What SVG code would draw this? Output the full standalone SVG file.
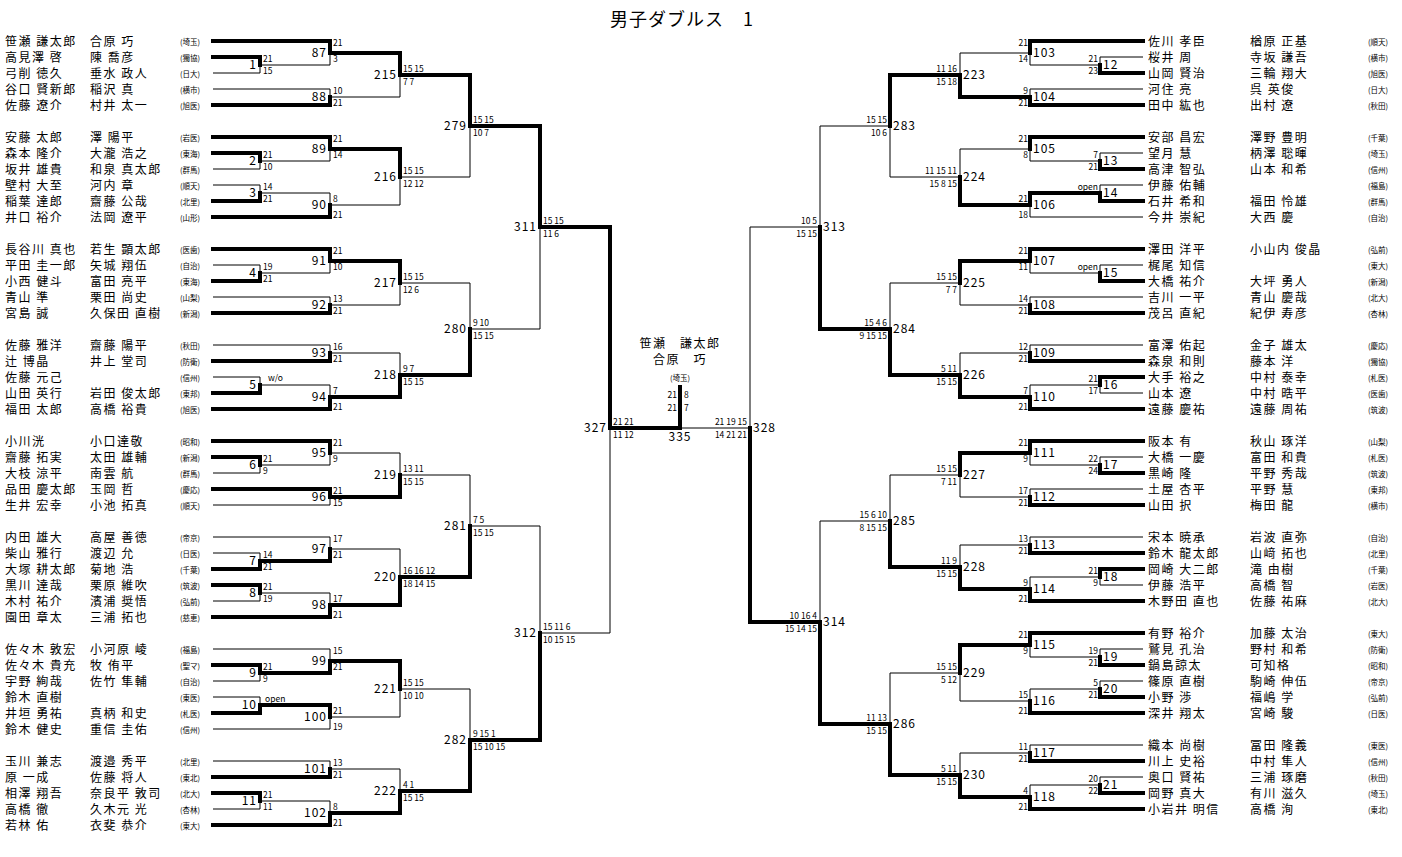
<svg xmlns="http://www.w3.org/2000/svg" width="1402" height="857" viewBox="0 0 1402 857">
<style>
text{font-family:"Noto Sans CJK JP","Liberation Sans",sans-serif;fill:#000}
.nm{font-size:12px;letter-spacing:1.5px}
.a{font-size:7.5px;letter-spacing:0}
.s{font-family:"Liberation Sans",sans-serif;font-size:8.5px}
.lb{font-family:"Liberation Sans",sans-serif;font-size:12px;letter-spacing:1px}
.re{text-anchor:end}
.t{fill:none;stroke:#000;stroke-width:4;stroke-linecap:square}
.n{fill:none;stroke:#000;stroke-width:1}
</style>
<rect width="1402" height="857" fill="#fff"/>
<text x="682" y="26" text-anchor="middle" style="font-size:18px;letter-spacing:1px">男子ダブルス　1</text>
<g id="connectors">
<path class="t" d="M213 57H260V65"/><path class="n" d="M213 73H260V65"/>
<path class="t" d="M213 41H330V53"/><path class="n" d="M260 65H330V53"/>
<path class="n" d="M213 89H330V97"/><path class="t" d="M213 105H330V97"/>
<path class="t" d="M330 53H400V75"/><path class="n" d="M330 97H400V75"/>
<path class="t" d="M213 153H260V161"/><path class="n" d="M213 169H260V161"/>
<path class="t" d="M213 137H330V149"/><path class="n" d="M260 161H330V149"/>
<path class="n" d="M213 185H260V193"/><path class="t" d="M213 201H260V193"/>
<path class="n" d="M260 193H330V205"/><path class="t" d="M213 217H330V205"/>
<path class="t" d="M330 149H400V177"/><path class="n" d="M330 205H400V177"/>
<path class="t" d="M400 75H470V126"/><path class="n" d="M400 177H470V126"/>
<path class="n" d="M213 265H260V273"/><path class="t" d="M213 281H260V273"/>
<path class="t" d="M213 249H330V261"/><path class="n" d="M260 273H330V261"/>
<path class="n" d="M213 297H330V305"/><path class="t" d="M213 313H330V305"/>
<path class="t" d="M330 261H400V283"/><path class="n" d="M330 305H400V283"/>
<path class="n" d="M213 345H330V353"/><path class="t" d="M213 361H330V353"/>
<path class="n" d="M213 377H260V385"/><path class="t" d="M213 393H260V385"/>
<path class="n" d="M260 385H330V397"/><path class="t" d="M213 409H330V397"/>
<path class="n" d="M330 353H400V375"/><path class="t" d="M330 397H400V375"/>
<path class="n" d="M400 283H470V329"/><path class="t" d="M400 375H470V329"/>
<path class="t" d="M470 126H540V227"/><path class="n" d="M470 329H540V227"/>
<path class="t" d="M213 457H260V465"/><path class="n" d="M213 473H260V465"/>
<path class="t" d="M213 441H330V453"/><path class="n" d="M260 465H330V453"/>
<path class="t" d="M213 489H330V497"/><path class="n" d="M213 505H330V497"/>
<path class="n" d="M330 453H400V475"/><path class="t" d="M330 497H400V475"/>
<path class="n" d="M213 553H260V561"/><path class="t" d="M213 569H260V561"/>
<path class="n" d="M213 537H330V549"/><path class="t" d="M260 561H330V549"/>
<path class="t" d="M213 585H260V593"/><path class="n" d="M213 601H260V593"/>
<path class="n" d="M260 593H330V605"/><path class="t" d="M213 617H330V605"/>
<path class="n" d="M330 549H400V577"/><path class="t" d="M330 605H400V577"/>
<path class="n" d="M400 475H470V526"/><path class="t" d="M400 577H470V526"/>
<path class="t" d="M213 665H260V673"/><path class="n" d="M213 681H260V673"/>
<path class="n" d="M213 649H330V661"/><path class="t" d="M260 673H330V661"/>
<path class="n" d="M213 697H260V705"/><path class="t" d="M213 713H260V705"/>
<path class="t" d="M260 705H330V717"/><path class="n" d="M213 729H330V717"/>
<path class="t" d="M330 661H400V689"/><path class="n" d="M330 717H400V689"/>
<path class="n" d="M213 761H330V769"/><path class="t" d="M213 777H330V769"/>
<path class="t" d="M213 793H260V801"/><path class="n" d="M213 809H260V801"/>
<path class="n" d="M260 801H330V813"/><path class="t" d="M213 825H330V813"/>
<path class="n" d="M330 769H400V791"/><path class="t" d="M330 813H400V791"/>
<path class="n" d="M400 689H470V740"/><path class="t" d="M400 791H470V740"/>
<path class="n" d="M470 526H540V633"/><path class="t" d="M470 740H540V633"/>
<path class="t" d="M540 227H610V428"/><path class="n" d="M540 633H610V428"/>
<path class="t" d="M610 428H680V387"/><path class="n" d="M680 428H750"/>
<path class="n" d="M1143 57H1100V65"/><path class="t" d="M1143 73H1100V65"/>
<path class="t" d="M1143 41H1030V53"/><path class="n" d="M1100 65H1030V53"/>
<path class="n" d="M1143 89H1030V97"/><path class="t" d="M1143 105H1030V97"/>
<path class="n" d="M1030 53H960V75"/><path class="t" d="M1030 97H960V75"/>
<path class="n" d="M1143 153H1100V161"/><path class="t" d="M1143 169H1100V161"/>
<path class="t" d="M1143 137H1030V149"/><path class="n" d="M1100 161H1030V149"/>
<path class="n" d="M1143 185H1100V193"/><path class="t" d="M1143 201H1100V193"/>
<path class="t" d="M1100 193H1030V205"/><path class="n" d="M1143 217H1030V205"/>
<path class="n" d="M1030 149H960V177"/><path class="t" d="M1030 205H960V177"/>
<path class="t" d="M960 75H890V126"/><path class="n" d="M960 177H890V126"/>
<path class="n" d="M1143 265H1100V273"/><path class="t" d="M1143 281H1100V273"/>
<path class="t" d="M1143 249H1030V261"/><path class="n" d="M1100 273H1030V261"/>
<path class="n" d="M1143 297H1030V305"/><path class="t" d="M1143 313H1030V305"/>
<path class="t" d="M1030 261H960V283"/><path class="n" d="M1030 305H960V283"/>
<path class="n" d="M1143 345H1030V353"/><path class="t" d="M1143 361H1030V353"/>
<path class="t" d="M1143 377H1100V385"/><path class="n" d="M1143 393H1100V385"/>
<path class="n" d="M1100 385H1030V397"/><path class="t" d="M1143 409H1030V397"/>
<path class="n" d="M1030 353H960V375"/><path class="t" d="M1030 397H960V375"/>
<path class="n" d="M960 283H890V329"/><path class="t" d="M960 375H890V329"/>
<path class="n" d="M890 126H820V227"/><path class="t" d="M890 329H820V227"/>
<path class="n" d="M1143 457H1100V465"/><path class="t" d="M1143 473H1100V465"/>
<path class="t" d="M1143 441H1030V453"/><path class="n" d="M1100 465H1030V453"/>
<path class="n" d="M1143 489H1030V497"/><path class="t" d="M1143 505H1030V497"/>
<path class="t" d="M1030 453H960V475"/><path class="n" d="M1030 497H960V475"/>
<path class="n" d="M1143 537H1030V545"/><path class="t" d="M1143 553H1030V545"/>
<path class="t" d="M1143 569H1100V577"/><path class="n" d="M1143 585H1100V577"/>
<path class="n" d="M1100 577H1030V589"/><path class="t" d="M1143 601H1030V589"/>
<path class="n" d="M1030 545H960V567"/><path class="t" d="M1030 589H960V567"/>
<path class="n" d="M960 475H890V521"/><path class="t" d="M960 567H890V521"/>
<path class="n" d="M1143 649H1100V657"/><path class="t" d="M1143 665H1100V657"/>
<path class="t" d="M1143 633H1030V645"/><path class="n" d="M1100 657H1030V645"/>
<path class="n" d="M1143 681H1100V689"/><path class="t" d="M1143 697H1100V689"/>
<path class="n" d="M1100 689H1030V701"/><path class="t" d="M1143 713H1030V701"/>
<path class="t" d="M1030 645H960V673"/><path class="n" d="M1030 701H960V673"/>
<path class="n" d="M1143 745H1030V753"/><path class="t" d="M1143 761H1030V753"/>
<path class="n" d="M1143 777H1100V785"/><path class="t" d="M1143 793H1100V785"/>
<path class="n" d="M1100 785H1030V797"/><path class="t" d="M1143 809H1030V797"/>
<path class="n" d="M1030 753H960V775"/><path class="t" d="M1030 797H960V775"/>
<path class="n" d="M960 673H890V724"/><path class="t" d="M960 775H890V724"/>
<path class="n" d="M890 521H820V622"/><path class="t" d="M890 724H820V622"/>
<path class="n" d="M820 227H750V428"/><path class="t" d="M820 622H750V428"/>
</g>
<g id="match-labels" class="lb">
<text class="re" x="257" y="69">1</text><text class="re" x="327" y="57">87</text><text class="re" x="327" y="101">88</text><text class="re" x="397" y="79">215</text>
<text class="re" x="257" y="165">2</text><text class="re" x="327" y="153">89</text><text class="re" x="257" y="197">3</text><text class="re" x="327" y="209">90</text><text class="re" x="397" y="181">216</text><text class="re" x="467" y="130">279</text>
<text class="re" x="257" y="277">4</text><text class="re" x="327" y="265">91</text><text class="re" x="327" y="309">92</text><text class="re" x="397" y="287">217</text>
<text class="re" x="327" y="357">93</text><text class="re" x="257" y="389">5</text><text class="re" x="327" y="401">94</text><text class="re" x="397" y="379">218</text><text class="re" x="467" y="333">280</text><text class="re" x="537" y="231">311</text>
<text class="re" x="257" y="469">6</text><text class="re" x="327" y="457">95</text><text class="re" x="327" y="501">96</text><text class="re" x="397" y="479">219</text>
<text class="re" x="257" y="565">7</text><text class="re" x="327" y="553">97</text><text class="re" x="257" y="597">8</text><text class="re" x="327" y="609">98</text><text class="re" x="397" y="581">220</text><text class="re" x="467" y="530">281</text>
<text class="re" x="257" y="677">9</text><text class="re" x="327" y="665">99</text><text class="re" x="257" y="709">10</text><text class="re" x="327" y="721">100</text><text class="re" x="397" y="693">221</text>
<text class="re" x="327" y="773">101</text><text class="re" x="257" y="805">11</text><text class="re" x="327" y="817">102</text><text class="re" x="397" y="795">222</text><text class="re" x="467" y="744">282</text><text class="re" x="537" y="637">312</text>
<text class="re" x="607" y="432">327</text><text x="680" y="441" text-anchor="middle">335</text><text x="753" y="432">328</text>
<text x="1103" y="69">12</text><text x="1033" y="57">103</text><text x="1033" y="101">104</text><text x="963" y="79">223</text>
<text x="1103" y="165">13</text><text x="1033" y="153">105</text><text x="1103" y="197">14</text><text x="1033" y="209">106</text><text x="963" y="181">224</text><text x="893" y="130">283</text>
<text x="1103" y="277">15</text><text x="1033" y="265">107</text><text x="1033" y="309">108</text><text x="963" y="287">225</text>
<text x="1033" y="357">109</text><text x="1103" y="389">16</text><text x="1033" y="401">110</text><text x="963" y="379">226</text><text x="893" y="333">284</text><text x="823" y="231">313</text>
<text x="1103" y="469">17</text><text x="1033" y="457">111</text><text x="1033" y="501">112</text><text x="963" y="479">227</text>
<text x="1033" y="549">113</text><text x="1103" y="581">18</text><text x="1033" y="593">114</text><text x="963" y="571">228</text><text x="893" y="525">285</text>
<text x="1103" y="661">19</text><text x="1033" y="649">115</text><text x="1103" y="693">20</text><text x="1033" y="705">116</text><text x="963" y="677">229</text>
<text x="1033" y="757">117</text><text x="1103" y="789">21</text><text x="1033" y="801">118</text><text x="963" y="779">230</text><text x="893" y="728">286</text><text x="823" y="626">314</text>
</g>
<g id="scores" class="s">
<text x="263" y="62">21</text><text x="263" y="74">15</text><text x="333" y="46">21</text><text x="333" y="62">3</text><text x="333" y="94">10</text><text x="333" y="106">21</text>
<text x="263" y="158">21</text><text x="263" y="170">10</text><text x="333" y="142">21</text><text x="333" y="158">14</text><text x="263" y="190">14</text><text x="263" y="202">21</text><text x="333" y="202">8</text><text x="333" y="218">21</text>
<text x="263" y="270">19</text><text x="263" y="282">21</text><text x="333" y="254">21</text><text x="333" y="270">10</text><text x="333" y="302">13</text><text x="333" y="314">21</text>
<text x="333" y="350">16</text><text x="333" y="362">21</text><text x="268" y="381">w/o</text><text x="333" y="394">7</text><text x="333" y="410">21</text>
<text x="263" y="462">21</text><text x="263" y="474">9</text><text x="333" y="446">21</text><text x="333" y="462">9</text><text x="333" y="494">21</text><text x="333" y="506">15</text>
<text x="263" y="558">14</text><text x="263" y="570">21</text><text x="333" y="542">17</text><text x="333" y="558">21</text><text x="263" y="590">21</text><text x="263" y="602">19</text><text x="333" y="602">17</text><text x="333" y="618">21</text>
<text x="263" y="670">21</text><text x="263" y="682">9</text><text x="333" y="654">15</text><text x="333" y="670">21</text><text x="265" y="702">open</text><text x="333" y="714">21</text><text x="333" y="730">19</text>
<text x="333" y="766">13</text><text x="333" y="778">21</text><text x="263" y="798">21</text><text x="263" y="810">11</text><text x="333" y="810">8</text><text x="333" y="826">21</text>
<text x="403" y="72">15 15</text><text x="403" y="85">7 7</text><text x="403" y="174">15 15</text><text x="403" y="187">12 12</text><text x="473" y="123">15 15</text><text x="473" y="136">10 7</text>
<text x="403" y="280">15 15</text><text x="403" y="293">12 6</text><text x="403" y="372">9 7</text><text x="403" y="385">15 15</text><text x="473" y="326">9 10</text><text x="473" y="339">15 15</text>
<text x="543" y="224">15 15</text><text x="543" y="237">11 6</text>
<text x="403" y="472">13 11</text><text x="403" y="485">15 15</text><text x="403" y="574">16 16 12</text><text x="403" y="587">18 14 15</text><text x="473" y="523">7 5</text><text x="473" y="536">15 15</text>
<text x="403" y="686">15 15</text><text x="403" y="699">10 10</text><text x="403" y="788">4 1</text><text x="403" y="801">15 15</text><text x="473" y="737">9 15 1</text><text x="473" y="750">15 10 15</text>
<text x="543" y="630">15 11 6</text><text x="543" y="643">10 15 15</text>
<text x="613" y="425">21 21</text><text x="613" y="438">11 12</text>
<text class="re" x="677" y="398">21</text><text x="684" y="398">8</text><text class="re" x="677" y="411">21</text><text x="684" y="411">7</text>
<g class="re">
<text x="747" y="425">21 19 15</text><text x="747" y="438">14 21 21</text>
<text x="817" y="224">10 5</text><text x="817" y="237">15 15</text><text x="817" y="619">10 16 4</text><text x="817" y="632">15 14 15</text>
<text x="887" y="123">15 15</text><text x="887" y="136">10 6</text><text x="887" y="326">15 4 6</text><text x="887" y="339">9 15 15</text><text x="887" y="518">15 6 10</text><text x="887" y="531">8 15 15</text><text x="887" y="721">11 13</text><text x="887" y="734">15 15</text>
<text x="957" y="72">11 16</text><text x="957" y="85">15 18</text><text x="957" y="174">11 15 11</text><text x="957" y="187">15 8 15</text><text x="957" y="280">15 15</text><text x="957" y="293">7 7</text><text x="957" y="372">5 11</text><text x="957" y="385">15 15</text>
<text x="957" y="472">15 15</text><text x="957" y="485">7 11</text><text x="957" y="564">11 9</text><text x="957" y="577">15 15</text><text x="957" y="670">15 15</text><text x="957" y="683">5 12</text><text x="957" y="772">5 11</text><text x="957" y="785">15 15</text>
<text x="1098" y="62">21</text><text x="1098" y="74">23</text><text x="1028" y="46">21</text><text x="1028" y="62">14</text><text x="1028" y="94">9</text><text x="1028" y="106">21</text>
<text x="1098" y="158">7</text><text x="1098" y="170">21</text><text x="1028" y="142">21</text><text x="1028" y="158">8</text><text x="1098" y="190">open</text><text x="1028" y="202">21</text><text x="1028" y="218">18</text>
<text x="1098" y="270">open</text><text x="1028" y="254">21</text><text x="1028" y="270">11</text><text x="1028" y="302">14</text><text x="1028" y="314">21</text>
<text x="1028" y="350">12</text><text x="1028" y="362">21</text><text x="1098" y="382">21</text><text x="1098" y="394">17</text><text x="1028" y="394">7</text><text x="1028" y="410">21</text>
<text x="1098" y="462">22</text><text x="1098" y="474">24</text><text x="1028" y="446">21</text><text x="1028" y="462">9</text><text x="1028" y="494">17</text><text x="1028" y="506">21</text>
<text x="1028" y="542">13</text><text x="1028" y="554">21</text><text x="1098" y="574">21</text><text x="1098" y="586">9</text><text x="1028" y="586">9</text><text x="1028" y="602">21</text>
<text x="1098" y="654">19</text><text x="1098" y="666">21</text><text x="1028" y="638">21</text><text x="1028" y="654">9</text><text x="1098" y="686">5</text><text x="1098" y="698">21</text><text x="1028" y="698">15</text><text x="1028" y="714">21</text>
<text x="1028" y="750">11</text><text x="1028" y="762">21</text><text x="1098" y="782">20</text><text x="1098" y="794">22</text><text x="1028" y="794">4</text><text x="1028" y="810">21</text>
</g>
</g>
<g id="champion" text-anchor="middle">
<text class="nm" x="680" y="348">笹瀬　謙太郎</text><text class="nm" x="680" y="364">合原　巧</text><text class="a" x="680" y="381">(埼玉)</text>
</g>
<g id="left-teams" class="nm">
<g id="tL01"><text x="5" y="46">笹瀬 謙太郎</text><text x="90" y="46">合原 巧</text><text class="a" x="180" y="45">(埼玉)</text></g>
<g id="tL02"><text x="5" y="62">高見澤 啓</text><text x="90" y="62">陳 喬彦</text><text class="a" x="180" y="61">(獨協)</text></g>
<g id="tL03"><text x="5" y="78">弓削 徳久</text><text x="90" y="78">垂水 政人</text><text class="a" x="180" y="77">(日大)</text></g>
<g id="tL04"><text x="5" y="94">谷口 賢新郎</text><text x="90" y="94">稲沢 真</text><text class="a" x="180" y="93">(横市)</text></g>
<g id="tL05"><text x="5" y="110">佐藤 遼介</text><text x="90" y="110">村井 太一</text><text class="a" x="180" y="109">(旭医)</text></g>
<g id="tL06"><text x="5" y="142">安藤 太郎</text><text x="90" y="142">澤 陽平</text><text class="a" x="180" y="141">(岩医)</text></g>
<g id="tL07"><text x="5" y="158">森本 隆介</text><text x="90" y="158">大瀧 浩之</text><text class="a" x="180" y="157">(東海)</text></g>
<g id="tL08"><text x="5" y="174">坂井 雄貴</text><text x="90" y="174">和泉 真太郎</text><text class="a" x="180" y="173">(群馬)</text></g>
<g id="tL09"><text x="5" y="190">壁村 大至</text><text x="90" y="190">河内 章</text><text class="a" x="180" y="189">(順天)</text></g>
<g id="tL10"><text x="5" y="206">稲葉 達郎</text><text x="90" y="206">齋藤 公哉</text><text class="a" x="180" y="205">(北里)</text></g>
<g id="tL11"><text x="5" y="222">井口 裕介</text><text x="90" y="222">法岡 遼平</text><text class="a" x="180" y="221">(山形)</text></g>
<g id="tL12"><text x="5" y="254">長谷川 真也</text><text x="90" y="254">若生 顕太郎</text><text class="a" x="180" y="253">(医歯)</text></g>
<g id="tL13"><text x="5" y="270">平田 圭一郎</text><text x="90" y="270">矢城 翔伍</text><text class="a" x="180" y="269">(自治)</text></g>
<g id="tL14"><text x="5" y="286">小西 健斗</text><text x="90" y="286">富田 亮平</text><text class="a" x="180" y="285">(東海)</text></g>
<g id="tL15"><text x="5" y="302">青山 準</text><text x="90" y="302">栗田 尚史</text><text class="a" x="180" y="301">(山梨)</text></g>
<g id="tL16"><text x="5" y="318">宮島 誠</text><text x="90" y="318">久保田 直樹</text><text class="a" x="180" y="317">(新潟)</text></g>
<g id="tL17"><text x="5" y="350">佐藤 雅洋</text><text x="90" y="350">齋藤 陽平</text><text class="a" x="180" y="349">(秋田)</text></g>
<g id="tL18"><text x="5" y="366">辻 博晶</text><text x="90" y="366">井上 堂司</text><text class="a" x="180" y="365">(防衛)</text></g>
<g id="tL19"><text x="5" y="382">佐藤 元己</text><text class="a" x="180" y="381">(信州)</text></g>
<g id="tL20"><text x="5" y="398">山田 英行</text><text x="90" y="398">岩田 俊太郎</text><text class="a" x="180" y="397">(東邦)</text></g>
<g id="tL21"><text x="5" y="414">福田 太郎</text><text x="90" y="414">高橋 裕貴</text><text class="a" x="180" y="413">(旭医)</text></g>
<g id="tL22"><text x="5" y="446">小川洸</text><text x="90" y="446">小口達敬</text><text class="a" x="180" y="445">(昭和)</text></g>
<g id="tL23"><text x="5" y="462">齋藤 拓実</text><text x="90" y="462">太田 雄輔</text><text class="a" x="180" y="461">(新潟)</text></g>
<g id="tL24"><text x="5" y="478">大枝 涼平</text><text x="90" y="478">南雲 航</text><text class="a" x="180" y="477">(群馬)</text></g>
<g id="tL25"><text x="5" y="494">品田 慶太郎</text><text x="90" y="494">玉岡 哲</text><text class="a" x="180" y="493">(慶応)</text></g>
<g id="tL26"><text x="5" y="510">生井 宏幸</text><text x="90" y="510">小池 拓真</text><text class="a" x="180" y="509">(順天)</text></g>
<g id="tL27"><text x="5" y="542">内田 雄大</text><text x="90" y="542">高屋 善徳</text><text class="a" x="180" y="541">(帝京)</text></g>
<g id="tL28"><text x="5" y="558">柴山 雅行</text><text x="90" y="558">渡辺 允</text><text class="a" x="180" y="557">(日医)</text></g>
<g id="tL29"><text x="5" y="574">大塚 耕太郎</text><text x="90" y="574">菊地 浩</text><text class="a" x="180" y="573">(千葉)</text></g>
<g id="tL30"><text x="5" y="590">黒川 達哉</text><text x="90" y="590">栗原 維吹</text><text class="a" x="180" y="589">(筑波)</text></g>
<g id="tL31"><text x="5" y="606">木村 祐介</text><text x="90" y="606">濱浦 奨悟</text><text class="a" x="180" y="605">(弘前)</text></g>
<g id="tL32"><text x="5" y="622">園田 章太</text><text x="90" y="622">三浦 拓也</text><text class="a" x="180" y="621">(慈恵)</text></g>
<g id="tL33"><text x="5" y="654">佐々木 敦宏</text><text x="90" y="654">小河原 崚</text><text class="a" x="180" y="653">(福島)</text></g>
<g id="tL34"><text x="5" y="670">佐々木 貴充</text><text x="90" y="670">牧 侑平</text><text class="a" x="180" y="669">(聖マ)</text></g>
<g id="tL35"><text x="5" y="686">宇野 絢哉</text><text x="90" y="686">佐竹 隼輔</text><text class="a" x="180" y="685">(自治)</text></g>
<g id="tL36"><text x="5" y="702">鈴木 直樹</text><text class="a" x="180" y="701">(東医)</text></g>
<g id="tL37"><text x="5" y="718">井垣 勇祐</text><text x="90" y="718">真柄 和史</text><text class="a" x="180" y="717">(札医)</text></g>
<g id="tL38"><text x="5" y="734">鈴木 健史</text><text x="90" y="734">重信 圭佑</text><text class="a" x="180" y="733">(信州)</text></g>
<g id="tL39"><text x="5" y="766">玉川 兼志</text><text x="90" y="766">渡邉 秀平</text><text class="a" x="180" y="765">(北里)</text></g>
<g id="tL40"><text x="5" y="782">原 一成</text><text x="90" y="782">佐藤 将人</text><text class="a" x="180" y="781">(東北)</text></g>
<g id="tL41"><text x="5" y="798">相澤 翔吾</text><text x="90" y="798">奈良平 敦司</text><text class="a" x="180" y="797">(北大)</text></g>
<g id="tL42"><text x="5" y="814">高橋 徹</text><text x="90" y="814">久木元 光</text><text class="a" x="180" y="813">(杏林)</text></g>
<g id="tL43"><text x="5" y="830">若林 佑</text><text x="90" y="830">衣斐 恭介</text><text class="a" x="180" y="829">(東大)</text></g>
</g>
<g id="right-teams" class="nm">
<g id="tR01"><text x="1148" y="46">佐川 孝臣</text><text x="1250" y="46">楢原 正基</text><text class="a" x="1368" y="45">(順天)</text></g>
<g id="tR02"><text x="1148" y="62">桜井 周</text><text x="1250" y="62">寺坂 謙吾</text><text class="a" x="1368" y="61">(横市)</text></g>
<g id="tR03"><text x="1148" y="78">山岡 賢治</text><text x="1250" y="78">三輪 翔大</text><text class="a" x="1368" y="77">(旭医)</text></g>
<g id="tR04"><text x="1148" y="94">河住 亮</text><text x="1250" y="94">呉 英俊</text><text class="a" x="1368" y="93">(日大)</text></g>
<g id="tR05"><text x="1148" y="110">田中 紘也</text><text x="1250" y="110">出村 遼</text><text class="a" x="1368" y="109">(秋田)</text></g>
<g id="tR06"><text x="1148" y="142">安部 昌宏</text><text x="1250" y="142">澤野 豊明</text><text class="a" x="1368" y="141">(千葉)</text></g>
<g id="tR07"><text x="1148" y="158">望月 慧</text><text x="1250" y="158">柄澤 聡暉</text><text class="a" x="1368" y="157">(埼玉)</text></g>
<g id="tR08"><text x="1148" y="174">高津 智弘</text><text x="1250" y="174">山本 和希</text><text class="a" x="1368" y="173">(信州)</text></g>
<g id="tR09"><text x="1148" y="190">伊藤 佑輔</text><text class="a" x="1368" y="189">(福島)</text></g>
<g id="tR10"><text x="1148" y="206">石井 希和</text><text x="1250" y="206">福田 怜雄</text><text class="a" x="1368" y="205">(群馬)</text></g>
<g id="tR11"><text x="1148" y="222">今井 崇紀</text><text x="1250" y="222">大西 慶</text><text class="a" x="1368" y="221">(自治)</text></g>
<g id="tR12"><text x="1148" y="254">澤田 洋平</text><text x="1250" y="254">小山内 俊晶</text><text class="a" x="1368" y="253">(弘前)</text></g>
<g id="tR13"><text x="1148" y="270">梶尾 知信</text><text class="a" x="1368" y="269">(東大)</text></g>
<g id="tR14"><text x="1148" y="286">大橋 祐介</text><text x="1250" y="286">大坪 勇人</text><text class="a" x="1368" y="285">(新潟)</text></g>
<g id="tR15"><text x="1148" y="302">吉川 一平</text><text x="1250" y="302">青山 慶哉</text><text class="a" x="1368" y="301">(北大)</text></g>
<g id="tR16"><text x="1148" y="318">茂呂 直紀</text><text x="1250" y="318">紀伊 寿彦</text><text class="a" x="1368" y="317">(杏林)</text></g>
<g id="tR17"><text x="1148" y="350">富澤 佑起</text><text x="1250" y="350">金子 雄太</text><text class="a" x="1368" y="349">(慶応)</text></g>
<g id="tR18"><text x="1148" y="366">森泉 和則</text><text x="1250" y="366">藤本 洋</text><text class="a" x="1368" y="365">(獨協)</text></g>
<g id="tR19"><text x="1148" y="382">大手 裕之</text><text x="1250" y="382">中村 泰幸</text><text class="a" x="1368" y="381">(札医)</text></g>
<g id="tR20"><text x="1148" y="398">山本 遼</text><text x="1250" y="398">中村 晧平</text><text class="a" x="1368" y="397">(医歯)</text></g>
<g id="tR21"><text x="1148" y="414">遠藤 慶祐</text><text x="1250" y="414">遠藤 周祐</text><text class="a" x="1368" y="413">(筑波)</text></g>
<g id="tR22"><text x="1148" y="446">阪本 有</text><text x="1250" y="446">秋山 琢洋</text><text class="a" x="1368" y="445">(山梨)</text></g>
<g id="tR23"><text x="1148" y="462">大橋 一慶</text><text x="1250" y="462">富田 和貴</text><text class="a" x="1368" y="461">(札医)</text></g>
<g id="tR24"><text x="1148" y="478">黒崎 隆</text><text x="1250" y="478">平野 秀哉</text><text class="a" x="1368" y="477">(筑波)</text></g>
<g id="tR25"><text x="1148" y="494">土屋 杏平</text><text x="1250" y="494">平野 慧</text><text class="a" x="1368" y="493">(東邦)</text></g>
<g id="tR26"><text x="1148" y="510">山田 択</text><text x="1250" y="510">梅田 龍</text><text class="a" x="1368" y="509">(横市)</text></g>
<g id="tR27"><text x="1148" y="542">宋本 暁承</text><text x="1250" y="542">岩波 直弥</text><text class="a" x="1368" y="541">(自治)</text></g>
<g id="tR28"><text x="1148" y="558">鈴木 龍太郎</text><text x="1250" y="558">山﨑 拓也</text><text class="a" x="1368" y="557">(北里)</text></g>
<g id="tR29"><text x="1148" y="574">岡崎 大二郎</text><text x="1250" y="574">滝 由樹</text><text class="a" x="1368" y="573">(千葉)</text></g>
<g id="tR30"><text x="1148" y="590">伊藤 浩平</text><text x="1250" y="590">高橋 智</text><text class="a" x="1368" y="589">(岩医)</text></g>
<g id="tR31"><text x="1148" y="606">木野田 直也</text><text x="1250" y="606">佐藤 祐麻</text><text class="a" x="1368" y="605">(北大)</text></g>
<g id="tR32"><text x="1148" y="638">有野 裕介</text><text x="1250" y="638">加藤 太治</text><text class="a" x="1368" y="637">(東大)</text></g>
<g id="tR33"><text x="1148" y="654">鷲見 孔治</text><text x="1250" y="654">野村 和希</text><text class="a" x="1368" y="653">(防衛)</text></g>
<g id="tR34"><text x="1148" y="670">鍋島諒太</text><text x="1250" y="670">可知格</text><text class="a" x="1368" y="669">(昭和)</text></g>
<g id="tR35"><text x="1148" y="686">篠原 直樹</text><text x="1250" y="686">駒崎 伸伍</text><text class="a" x="1368" y="685">(帝京)</text></g>
<g id="tR36"><text x="1148" y="702">小野 渉</text><text x="1250" y="702">福嶋 学</text><text class="a" x="1368" y="701">(弘前)</text></g>
<g id="tR37"><text x="1148" y="718">深井 翔太</text><text x="1250" y="718">宮崎 駿</text><text class="a" x="1368" y="717">(日医)</text></g>
<g id="tR38"><text x="1148" y="750">織本 尚樹</text><text x="1250" y="750">冨田 隆義</text><text class="a" x="1368" y="749">(東医)</text></g>
<g id="tR39"><text x="1148" y="766">川上 史裕</text><text x="1250" y="766">中村 隼人</text><text class="a" x="1368" y="765">(信州)</text></g>
<g id="tR40"><text x="1148" y="782">奥口 賢祐</text><text x="1250" y="782">三浦 琢磨</text><text class="a" x="1368" y="781">(秋田)</text></g>
<g id="tR41"><text x="1148" y="798">岡野 真大</text><text x="1250" y="798">有川 滋久</text><text class="a" x="1368" y="797">(埼玉)</text></g>
<g id="tR42"><text x="1148" y="814">小岩井 明信</text><text x="1250" y="814">高橋 洵</text><text class="a" x="1368" y="813">(東北)</text></g>
</g>
</svg>
